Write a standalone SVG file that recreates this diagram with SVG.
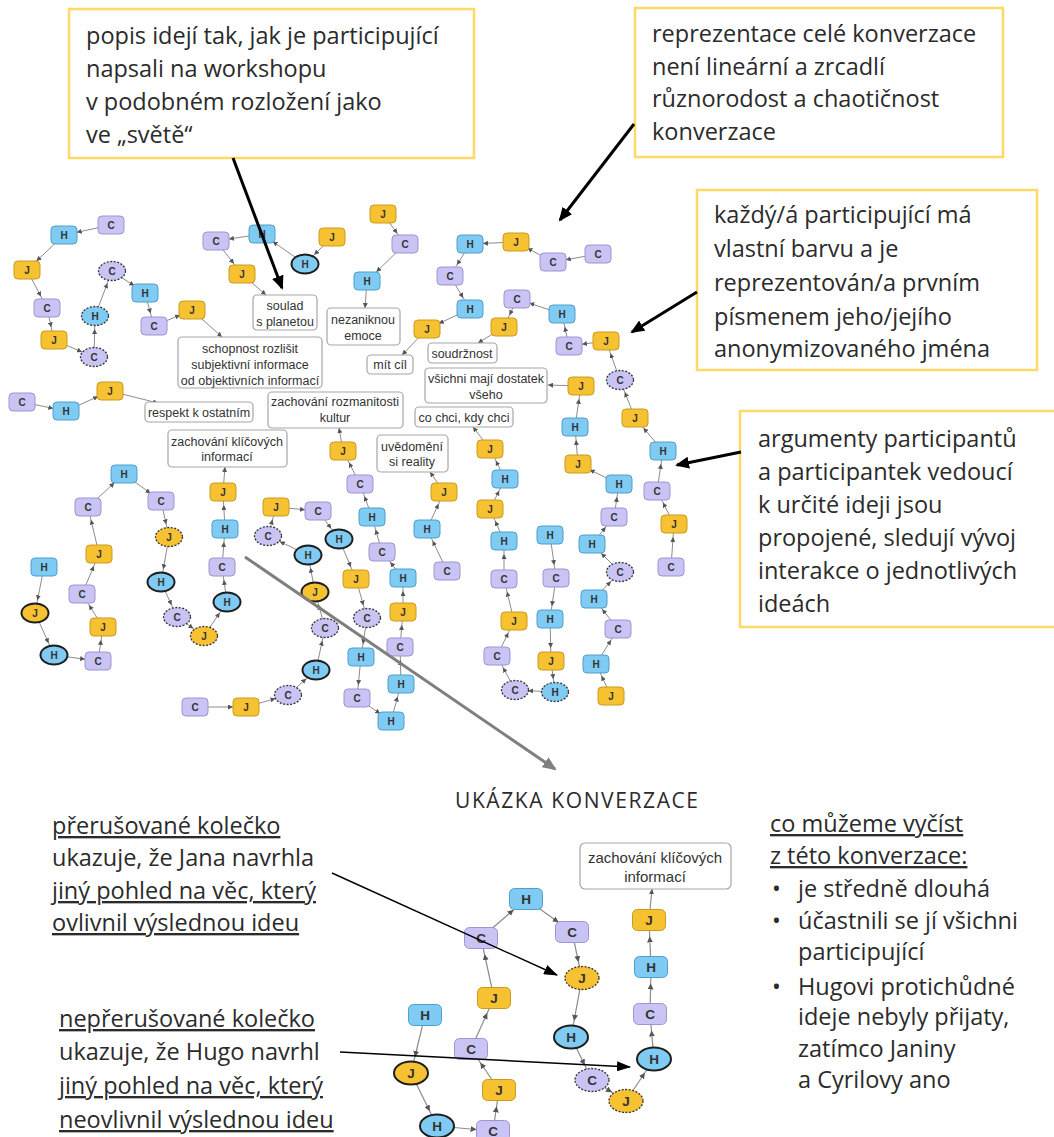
<svg xmlns="http://www.w3.org/2000/svg" width="1054" height="1137" viewBox="0 0 1054 1137">
<style>
.ann{fill:none;stroke:#ffd966;stroke-width:2.5}
.at{font-family:"Open Sans","Liberation Sans",sans-serif;font-size:23.5px;fill:#2b2b2b}
.u{text-decoration:underline}
.idea rect{fill:#fff;stroke:#a6a6a6;stroke-width:1.2}
.idea text{font-family:"Liberation Sans",Arial,sans-serif;font-size:12.5px;fill:#333;text-anchor:middle}
.n text{font-family:"Liberation Sans",Arial,sans-serif;font-weight:bold;font-size:10px;fill:#333;text-anchor:middle}
.L text{font-size:13.5px}
.c rect,.c ellipse{fill:#c9c4f4;stroke:#9c95d3;stroke-width:1}
.h rect,.h ellipse{fill:#7fcbf3;stroke:#4f9fcc;stroke-width:1}
.j rect,.j ellipse{fill:#f7c232;stroke:#c99a1c;stroke-width:1}
.d ellipse{stroke:#333;stroke-dasharray:2 1.5;stroke-width:1.3}
.b ellipse{stroke:#1e1e1e;stroke-width:2}
.e{stroke:#8c8c8c;stroke-width:1;fill:none;marker-end:url(#a)}
.eb{stroke:#8c8c8c;stroke-width:1;fill:none;marker-end:url(#ab)}
.el{stroke:#8c8c8c;stroke-width:1.2;fill:none;marker-end:url(#al)}
.elb{stroke:#8c8c8c;stroke-width:1.2;fill:none;marker-end:url(#ab)}
.k{stroke:#000;stroke-width:3;fill:none;marker-end:url(#mk)}
.g{stroke:#7f7f7f;stroke-width:3;fill:none;marker-end:url(#mg)}
.t{stroke:#000;stroke-width:1.4;fill:none;marker-end:url(#mt)}
</style>
<defs>
<marker id="a" viewBox="0 0 5 5" markerWidth="5" markerHeight="5" refX="18" refY="2.5" orient="auto" markerUnits="userSpaceOnUse"><path d="M0,0 L5,2.5 L0,5z" fill="#555"/></marker>
<marker id="ab" viewBox="0 0 5 5" markerWidth="5" markerHeight="5" refX="5" refY="2.5" orient="auto" markerUnits="userSpaceOnUse"><path d="M0,0 L5,2.5 L0,5z" fill="#555"/></marker>
<marker id="al" viewBox="0 0 6 6" markerWidth="6" markerHeight="6" refX="22.5" refY="3" orient="auto" markerUnits="userSpaceOnUse"><path d="M0,0 L6,3 L0,6z" fill="#555"/></marker>
<marker id="mk" viewBox="0 0 14 12" markerWidth="14" markerHeight="12" refX="12" refY="6" orient="auto" markerUnits="userSpaceOnUse"><path d="M0,0 L14,6 L0,12z" fill="#000"/></marker>
<marker id="mg" viewBox="0 0 14 12" markerWidth="14" markerHeight="12" refX="12" refY="6" orient="auto" markerUnits="userSpaceOnUse"><path d="M0,0 L14,6 L0,12z" fill="#7f7f7f"/></marker>
<marker id="mt" viewBox="0 0 14 10" markerWidth="14" markerHeight="10" refX="13" refY="5" orient="auto" markerUnits="userSpaceOnUse"><path d="M0,0 L14,5 L0,10z" fill="#000"/></marker>
</defs>
<rect width="1054" height="1137" fill="#fff"/>

<g id="connectors">
<line class="e" x1="111" y1="225" x2="64" y2="235"/>
<line class="e" x1="64" y1="235" x2="27" y2="270"/>
<line class="e" x1="27" y1="270" x2="47" y2="308"/>
<line class="e" x1="47" y1="308" x2="54" y2="340"/>
<line class="e" x1="54" y1="340" x2="94" y2="357"/>
<line class="e" x1="94" y1="357" x2="95" y2="316"/>
<line class="e" x1="95" y1="316" x2="112" y2="271"/>
<line class="e" x1="112" y1="271" x2="145" y2="293"/>
<line class="e" x1="145" y1="293" x2="154" y2="326"/>
<line class="e" x1="154" y1="326" x2="192" y2="310"/>
<line class="eb" x1="192" y1="310" x2="222" y2="337"/>
<line class="e" x1="332" y1="237" x2="305" y2="264"/>
<line class="e" x1="305" y1="264" x2="262" y2="234"/>
<line class="e" x1="262" y1="234" x2="216" y2="241"/>
<line class="e" x1="216" y1="241" x2="242" y2="274"/>
<line class="eb" x1="242" y1="274" x2="266" y2="295"/>
<line class="e" x1="383" y1="214" x2="405" y2="244"/>
<line class="e" x1="405" y1="244" x2="367" y2="281"/>
<line class="eb" x1="367" y1="281" x2="365" y2="308"/>
<line class="e" x1="598" y1="254" x2="553" y2="262"/>
<line class="e" x1="553" y1="262" x2="516" y2="242"/>
<line class="e" x1="516" y1="242" x2="470" y2="244"/>
<line class="e" x1="470" y1="244" x2="450" y2="276"/>
<line class="e" x1="450" y1="276" x2="470" y2="309"/>
<line class="e" x1="470" y1="309" x2="427" y2="329"/>
<line class="eb" x1="427" y1="329" x2="402" y2="355"/>
<line class="e" x1="671" y1="567" x2="674" y2="524"/>
<line class="e" x1="674" y1="524" x2="657" y2="491"/>
<line class="e" x1="657" y1="491" x2="663" y2="451"/>
<line class="e" x1="663" y1="451" x2="635" y2="418"/>
<line class="e" x1="635" y1="418" x2="620" y2="380"/>
<line class="e" x1="620" y1="380" x2="606" y2="341"/>
<line class="e" x1="606" y1="341" x2="569" y2="346"/>
<line class="e" x1="569" y1="346" x2="562" y2="314"/>
<line class="e" x1="562" y1="314" x2="517" y2="299"/>
<line class="e" x1="517" y1="299" x2="504" y2="327"/>
<line class="eb" x1="504" y1="327" x2="478" y2="343"/>
<line class="e" x1="611" y1="696" x2="596" y2="664"/>
<line class="e" x1="596" y1="664" x2="618" y2="629"/>
<line class="e" x1="618" y1="629" x2="594" y2="599"/>
<line class="e" x1="594" y1="599" x2="620" y2="572"/>
<line class="e" x1="620" y1="572" x2="592" y2="544"/>
<line class="e" x1="592" y1="544" x2="614" y2="517"/>
<line class="e" x1="614" y1="517" x2="619" y2="484"/>
<line class="e" x1="619" y1="484" x2="578" y2="464"/>
<line class="e" x1="578" y1="464" x2="575" y2="427"/>
<line class="e" x1="575" y1="427" x2="581" y2="386"/>
<line class="eb" x1="581" y1="386" x2="548" y2="385"/>
<line class="e" x1="550" y1="535" x2="556" y2="578"/>
<line class="e" x1="556" y1="578" x2="550" y2="619"/>
<line class="e" x1="550" y1="619" x2="551" y2="661"/>
<line class="e" x1="551" y1="661" x2="555" y2="692"/>
<line class="e" x1="555" y1="692" x2="515" y2="690"/>
<line class="e" x1="515" y1="690" x2="497" y2="656"/>
<line class="e" x1="497" y1="656" x2="514" y2="621"/>
<line class="e" x1="514" y1="621" x2="504" y2="579"/>
<line class="e" x1="504" y1="579" x2="504" y2="541"/>
<line class="e" x1="504" y1="541" x2="490" y2="509"/>
<line class="e" x1="490" y1="509" x2="505" y2="479"/>
<line class="e" x1="505" y1="479" x2="490" y2="449"/>
<line class="eb" x1="490" y1="449" x2="473" y2="427"/>
<line class="e" x1="447" y1="571" x2="427" y2="529"/>
<line class="e" x1="427" y1="529" x2="444" y2="492"/>
<line class="eb" x1="444" y1="492" x2="430" y2="472"/>
<line class="e" x1="195" y1="707" x2="246" y2="707"/>
<line class="e" x1="246" y1="707" x2="288" y2="695"/>
<line class="e" x1="288" y1="695" x2="316" y2="670"/>
<line class="e" x1="316" y1="670" x2="325" y2="628"/>
<line class="e" x1="325" y1="628" x2="315" y2="592"/>
<line class="e" x1="315" y1="592" x2="308" y2="555"/>
<line class="e" x1="308" y1="555" x2="268" y2="536"/>
<line class="e" x1="268" y1="536" x2="276" y2="507"/>
<line class="e" x1="276" y1="507" x2="318" y2="511"/>
<line class="e" x1="318" y1="511" x2="339" y2="539"/>
<line class="e" x1="339" y1="539" x2="356" y2="579"/>
<line class="e" x1="356" y1="579" x2="367" y2="618"/>
<line class="e" x1="367" y1="618" x2="361" y2="657"/>
<line class="e" x1="361" y1="657" x2="357" y2="698"/>
<line class="e" x1="357" y1="698" x2="391" y2="721"/>
<line class="e" x1="391" y1="721" x2="401" y2="684"/>
<line class="e" x1="401" y1="684" x2="400" y2="647"/>
<line class="e" x1="400" y1="647" x2="403" y2="612"/>
<line class="e" x1="403" y1="612" x2="403" y2="578"/>
<line class="e" x1="403" y1="578" x2="382" y2="552"/>
<line class="e" x1="382" y1="552" x2="372" y2="517"/>
<line class="e" x1="372" y1="517" x2="360" y2="484"/>
<line class="e" x1="360" y1="484" x2="343" y2="451"/>
<line class="eb" x1="343" y1="451" x2="339" y2="428"/>
<line class="e" x1="44" y1="567" x2="35" y2="613"/>
<line class="e" x1="35" y1="613" x2="54" y2="655"/>
<line class="e" x1="54" y1="655" x2="98" y2="661"/>
<line class="e" x1="98" y1="661" x2="103" y2="627"/>
<line class="e" x1="103" y1="627" x2="82" y2="594"/>
<line class="e" x1="82" y1="594" x2="99" y2="554"/>
<line class="e" x1="99" y1="554" x2="88" y2="507"/>
<line class="e" x1="88" y1="507" x2="124" y2="474"/>
<line class="e" x1="124" y1="474" x2="161" y2="501"/>
<line class="e" x1="161" y1="501" x2="169" y2="537"/>
<line class="e" x1="169" y1="537" x2="161" y2="582"/>
<line class="e" x1="161" y1="582" x2="177" y2="617"/>
<line class="e" x1="177" y1="617" x2="204" y2="636"/>
<line class="e" x1="204" y1="636" x2="227" y2="602"/>
<line class="e" x1="227" y1="602" x2="222" y2="567"/>
<line class="e" x1="222" y1="567" x2="225" y2="529"/>
<line class="e" x1="225" y1="529" x2="223" y2="492"/>
<line class="eb" x1="223" y1="492" x2="225" y2="467"/>
<line class="e" x1="22" y1="402" x2="66" y2="411"/>
<line class="e" x1="66" y1="411" x2="110" y2="391"/>
<line class="eb" x1="110" y1="391" x2="158" y2="403"/>
<line class="el" x1="425" y1="1015" x2="411" y2="1073"/>
<line class="el" x1="411" y1="1073" x2="437" y2="1126"/>
<line class="el" x1="437" y1="1126" x2="493" y2="1131"/>
<line class="el" x1="493" y1="1131" x2="499" y2="1090"/>
<line class="el" x1="499" y1="1090" x2="471" y2="1049"/>
<line class="el" x1="471" y1="1049" x2="494" y2="998"/>
<line class="el" x1="494" y1="998" x2="481" y2="938"/>
<line class="el" x1="481" y1="938" x2="526" y2="899"/>
<line class="el" x1="526" y1="899" x2="572" y2="932"/>
<line class="el" x1="572" y1="932" x2="582" y2="978"/>
<line class="el" x1="582" y1="978" x2="571" y2="1037"/>
<line class="el" x1="571" y1="1037" x2="592" y2="1080"/>
<line class="el" x1="592" y1="1080" x2="626" y2="1101"/>
<line class="el" x1="626" y1="1101" x2="654" y2="1059"/>
<line class="el" x1="654" y1="1059" x2="650" y2="1014"/>
<line class="el" x1="650" y1="1014" x2="651" y2="967"/>
<line class="el" x1="651" y1="967" x2="649" y2="920"/>
<line class="elb" x1="649" y1="920" x2="652" y2="889"/>
</g>

<g id="ideas">
<g id="idea-soulad" class="idea"><rect x="253" y="295" width="64" height="35" rx="4"/><text x="285" y="310">soulad</text><text x="285" y="326">s planetou</text></g>
<g id="idea-schopnost" class="idea"><rect x="178" y="337" width="144" height="51" rx="4"/><text x="250" y="353">schopnost rozlišit</text><text x="250" y="369">subjektivní informace</text><text x="250" y="385">od objektivních informací</text></g>
<g id="idea-nezaniknou" class="idea"><rect x="327" y="308" width="73" height="37" rx="4"/><text x="363" y="324">nezaniknou</text><text x="363" y="340">emoce</text></g>
<g id="idea-mitcil" class="idea"><rect x="367" y="355" width="46" height="19" rx="4"/><text x="390" y="369">mít cíl</text></g>
<g id="idea-soudrznost" class="idea"><rect x="428" y="343" width="69" height="20" rx="4"/><text x="462" y="358">soudržnost</text></g>
<g id="idea-vsichni" class="idea"><rect x="425" y="368" width="122" height="35" rx="4"/><text x="486" y="383">všichni mají dostatek</text><text x="486" y="399">všeho</text></g>
<g id="idea-cochci" class="idea"><rect x="415" y="407" width="98" height="20" rx="4"/><text x="464" y="422">co chci, kdy chci</text></g>
<g id="idea-respekt" class="idea"><rect x="145" y="402" width="108" height="20" rx="4"/><text x="199" y="417">respekt k ostatním</text></g>
<g id="idea-rozmanitost" class="idea"><rect x="268" y="392" width="135" height="36" rx="4"/><text x="335" y="406">zachování rozmanitosti</text><text x="335" y="422">kultur</text></g>
<g id="idea-klicove" class="idea"><rect x="168" y="430" width="119" height="37" rx="4"/><text x="227" y="446">zachování klíčových</text><text x="227" y="461">informací</text></g>
<g id="idea-uvedomeni" class="idea"><rect x="377" y="435" width="71" height="37" rx="4"/><text x="412" y="451">uvědomění</text><text x="412" y="466">si reality</text></g>
<g id="idea-klicove-2" class="idea"><rect x="580" y="843" width="151" height="46" rx="5"/><text x="655" y="863" style="font-size:15px">zachování klíčových</text><text x="655" y="882" style="font-size:15px">informací</text></g>
</g>

<g id="nodes">
<g id="a1" class="n c"><rect x="98" y="216" width="26" height="18" rx="4"/><text x="111" y="228.5">C</text></g>
<g id="a2" class="n h"><rect x="51" y="226" width="26" height="18" rx="4"/><text x="64" y="238.5">H</text></g>
<g id="a3" class="n j"><rect x="14" y="261" width="26" height="18" rx="4"/><text x="27" y="273.5">J</text></g>
<g id="a4" class="n c"><rect x="34" y="299" width="26" height="18" rx="4"/><text x="47" y="311.5">C</text></g>
<g id="a5" class="n j"><rect x="41" y="331" width="26" height="18" rx="4"/><text x="54" y="343.5">J</text></g>
<g id="a6" class="n c d"><ellipse cx="94" cy="357" rx="13.5" ry="9.5"/><text x="94" y="360.5">C</text></g>
<g id="a7" class="n h d"><ellipse cx="95" cy="316" rx="13.5" ry="9.5"/><text x="95" y="319.5">H</text></g>
<g id="a8" class="n c d"><ellipse cx="112" cy="271" rx="13.5" ry="9.5"/><text x="112" y="274.5">C</text></g>
<g id="a9" class="n h"><rect x="132" y="284" width="26" height="18" rx="4"/><text x="145" y="296.5">H</text></g>
<g id="a10" class="n c"><rect x="141" y="317" width="26" height="18" rx="4"/><text x="154" y="329.5">C</text></g>
<g id="a11" class="n j"><rect x="179" y="301" width="26" height="18" rx="4"/><text x="192" y="313.5">J</text></g>

<g id="b1" class="n j"><rect x="319" y="228" width="26" height="18" rx="4"/><text x="332" y="240.5">J</text></g>
<g id="b2" class="n h b"><ellipse cx="305" cy="264" rx="13.5" ry="9.5"/><text x="305" y="267.5">H</text></g>
<g id="b3" class="n h"><rect x="249" y="225" width="26" height="18" rx="4"/><text x="262" y="237.5">H</text></g>
<g id="b4" class="n c"><rect x="203" y="232" width="26" height="18" rx="4"/><text x="216" y="244.5">C</text></g>
<g id="b5" class="n j"><rect x="229" y="265" width="26" height="18" rx="4"/><text x="242" y="277.5">J</text></g>

<g id="c1" class="n j"><rect x="370" y="205" width="26" height="18" rx="4"/><text x="383" y="217.5">J</text></g>
<g id="c2" class="n c"><rect x="392" y="235" width="26" height="18" rx="4"/><text x="405" y="247.5">C</text></g>
<g id="c3" class="n h"><rect x="354" y="272" width="26" height="18" rx="4"/><text x="367" y="284.5">H</text></g>

<g id="d1" class="n c"><rect x="585" y="245" width="26" height="18" rx="4"/><text x="598" y="257.5">C</text></g>
<g id="d2" class="n c"><rect x="540" y="253" width="26" height="18" rx="4"/><text x="553" y="265.5">C</text></g>
<g id="d3" class="n j"><rect x="503" y="233" width="26" height="18" rx="4"/><text x="516" y="245.5">J</text></g>
<g id="d4" class="n h"><rect x="457" y="235" width="26" height="18" rx="4"/><text x="470" y="247.5">H</text></g>
<g id="d5" class="n c"><rect x="437" y="267" width="26" height="18" rx="4"/><text x="450" y="279.5">C</text></g>
<g id="d6" class="n h"><rect x="457" y="300" width="26" height="18" rx="4"/><text x="470" y="312.5">H</text></g>
<g id="d7" class="n j"><rect x="414" y="320" width="26" height="18" rx="4"/><text x="427" y="332.5">J</text></g>

<g id="e1" class="n c"><rect x="658" y="558" width="26" height="18" rx="4"/><text x="671" y="570.5">C</text></g>
<g id="e2" class="n j"><rect x="661" y="515" width="26" height="18" rx="4"/><text x="674" y="527.5">J</text></g>
<g id="e3" class="n c"><rect x="644" y="482" width="26" height="18" rx="4"/><text x="657" y="494.5">C</text></g>
<g id="e4" class="n h"><rect x="650" y="442" width="26" height="18" rx="4"/><text x="663" y="454.5">H</text></g>
<g id="e5" class="n j"><rect x="622" y="409" width="26" height="18" rx="4"/><text x="635" y="421.5">J</text></g>
<g id="e6" class="n c d"><ellipse cx="620" cy="380" rx="13.5" ry="9.5"/><text x="620" y="383.5">C</text></g>
<g id="e7" class="n j"><rect x="593" y="332" width="26" height="18" rx="4"/><text x="606" y="344.5">J</text></g>
<g id="e8" class="n c"><rect x="556" y="337" width="26" height="18" rx="4"/><text x="569" y="349.5">C</text></g>
<g id="e9" class="n h"><rect x="549" y="305" width="26" height="18" rx="4"/><text x="562" y="317.5">H</text></g>
<g id="e10" class="n c"><rect x="504" y="290" width="26" height="18" rx="4"/><text x="517" y="302.5">C</text></g>
<g id="e11" class="n j"><rect x="491" y="318" width="26" height="18" rx="4"/><text x="504" y="330.5">J</text></g>

<g id="f1" class="n j"><rect x="598" y="687" width="26" height="18" rx="4"/><text x="611" y="699.5">J</text></g>
<g id="f2" class="n h"><rect x="583" y="655" width="26" height="18" rx="4"/><text x="596" y="667.5">H</text></g>
<g id="f3" class="n c"><rect x="605" y="620" width="26" height="18" rx="4"/><text x="618" y="632.5">C</text></g>
<g id="f4" class="n h"><rect x="581" y="590" width="26" height="18" rx="4"/><text x="594" y="602.5">H</text></g>
<g id="f5" class="n c d"><ellipse cx="620" cy="572" rx="13.5" ry="9.5"/><text x="620" y="575.5">C</text></g>
<g id="f6" class="n h"><rect x="579" y="535" width="26" height="18" rx="4"/><text x="592" y="547.5">H</text></g>
<g id="f7" class="n c"><rect x="601" y="508" width="26" height="18" rx="4"/><text x="614" y="520.5">C</text></g>
<g id="f8" class="n h"><rect x="606" y="475" width="26" height="18" rx="4"/><text x="619" y="487.5">H</text></g>
<g id="f9" class="n j"><rect x="565" y="455" width="26" height="18" rx="4"/><text x="578" y="467.5">J</text></g>
<g id="f10" class="n h"><rect x="562" y="418" width="26" height="18" rx="4"/><text x="575" y="430.5">H</text></g>
<g id="f11" class="n j"><rect x="568" y="377" width="26" height="18" rx="4"/><text x="581" y="389.5">J</text></g>

<g id="g1" class="n h"><rect x="537" y="526" width="26" height="18" rx="4"/><text x="550" y="538.5">H</text></g>
<g id="g2" class="n c"><rect x="543" y="569" width="26" height="18" rx="4"/><text x="556" y="581.5">C</text></g>
<g id="g3" class="n h"><rect x="537" y="610" width="26" height="18" rx="4"/><text x="550" y="622.5">H</text></g>
<g id="g4" class="n j"><rect x="538" y="652" width="26" height="18" rx="4"/><text x="551" y="664.5">J</text></g>
<g id="g5" class="n h d"><ellipse cx="555" cy="692" rx="13.5" ry="9.5"/><text x="555" y="695.5">H</text></g>
<g id="g6" class="n c d"><ellipse cx="515" cy="690" rx="13.5" ry="9.5"/><text x="515" y="693.5">C</text></g>
<g id="g7" class="n c"><rect x="484" y="647" width="26" height="18" rx="4"/><text x="497" y="659.5">C</text></g>
<g id="g8" class="n j"><rect x="501" y="612" width="26" height="18" rx="4"/><text x="514" y="624.5">J</text></g>
<g id="g9" class="n c"><rect x="491" y="570" width="26" height="18" rx="4"/><text x="504" y="582.5">C</text></g>
<g id="g10" class="n h"><rect x="491" y="532" width="26" height="18" rx="4"/><text x="504" y="544.5">H</text></g>
<g id="g11" class="n j"><rect x="477" y="500" width="26" height="18" rx="4"/><text x="490" y="512.5">J</text></g>
<g id="g12" class="n h"><rect x="492" y="470" width="26" height="18" rx="4"/><text x="505" y="482.5">H</text></g>
<g id="g13" class="n j"><rect x="477" y="440" width="26" height="18" rx="4"/><text x="490" y="452.5">J</text></g>

<g id="h1" class="n c"><rect x="434" y="562" width="26" height="18" rx="4"/><text x="447" y="574.5">C</text></g>
<g id="h2" class="n h"><rect x="414" y="520" width="26" height="18" rx="4"/><text x="427" y="532.5">H</text></g>
<g id="h3" class="n j"><rect x="431" y="483" width="26" height="18" rx="4"/><text x="444" y="495.5">J</text></g>

<g id="i1" class="n c"><rect x="182" y="698" width="26" height="18" rx="4"/><text x="195" y="710.5">C</text></g>
<g id="i2" class="n j"><rect x="233" y="698" width="26" height="18" rx="4"/><text x="246" y="710.5">J</text></g>
<g id="i3" class="n c d"><ellipse cx="288" cy="695" rx="13.5" ry="9.5"/><text x="288" y="698.5">C</text></g>
<g id="i4" class="n h b"><ellipse cx="316" cy="670" rx="13.5" ry="9.5"/><text x="316" y="673.5">H</text></g>
<g id="i5" class="n c d"><ellipse cx="325" cy="628" rx="13.5" ry="9.5"/><text x="325" y="631.5">C</text></g>
<g id="i6" class="n j b"><ellipse cx="315" cy="592" rx="13.5" ry="9.5"/><text x="315" y="595.5">J</text></g>
<g id="i7" class="n h b"><ellipse cx="308" cy="555" rx="13.5" ry="9.5"/><text x="308" y="558.5">H</text></g>
<g id="i8" class="n c d"><ellipse cx="268" cy="536" rx="13.5" ry="9.5"/><text x="268" y="539.5">C</text></g>
<g id="i9" class="n j"><rect x="263" y="498" width="26" height="18" rx="4"/><text x="276" y="510.5">J</text></g>
<g id="i10" class="n c"><rect x="305" y="502" width="26" height="18" rx="4"/><text x="318" y="514.5">C</text></g>
<g id="i11" class="n h b"><ellipse cx="339" cy="539" rx="13.5" ry="9.5"/><text x="339" y="542.5">H</text></g>
<g id="i12" class="n j"><rect x="343" y="570" width="26" height="18" rx="4"/><text x="356" y="582.5">J</text></g>
<g id="i13" class="n c d"><ellipse cx="367" cy="618" rx="13.5" ry="9.5"/><text x="367" y="621.5">C</text></g>
<g id="i14" class="n h"><rect x="348" y="648" width="26" height="18" rx="4"/><text x="361" y="660.5">H</text></g>
<g id="i15" class="n c"><rect x="344" y="689" width="26" height="18" rx="4"/><text x="357" y="701.5">C</text></g>
<g id="i16" class="n h"><rect x="378" y="712" width="26" height="18" rx="4"/><text x="391" y="724.5">H</text></g>
<g id="i17" class="n h"><rect x="388" y="675" width="26" height="18" rx="4"/><text x="401" y="687.5">H</text></g>
<g id="i18" class="n c"><rect x="387" y="638" width="26" height="18" rx="4"/><text x="400" y="650.5">C</text></g>
<g id="i19" class="n j"><rect x="390" y="603" width="26" height="18" rx="4"/><text x="403" y="615.5">J</text></g>
<g id="i20" class="n h"><rect x="390" y="569" width="26" height="18" rx="4"/><text x="403" y="581.5">H</text></g>
<g id="i21" class="n c"><rect x="369" y="543" width="26" height="18" rx="4"/><text x="382" y="555.5">C</text></g>
<g id="i22" class="n h"><rect x="359" y="508" width="26" height="18" rx="4"/><text x="372" y="520.5">H</text></g>
<g id="i23" class="n c"><rect x="347" y="475" width="26" height="18" rx="4"/><text x="360" y="487.5">C</text></g>
<g id="i24" class="n j"><rect x="330" y="442" width="26" height="18" rx="4"/><text x="343" y="454.5">J</text></g>

<g id="j1" class="n h"><rect x="31" y="558" width="26" height="18" rx="4"/><text x="44" y="570.5">H</text></g>
<g id="j2" class="n j b"><ellipse cx="35" cy="613" rx="13.5" ry="9.5"/><text x="35" y="616.5">J</text></g>
<g id="j3" class="n h b"><ellipse cx="54" cy="655" rx="13.5" ry="9.5"/><text x="54" y="658.5">H</text></g>
<g id="j4" class="n c"><rect x="85" y="652" width="26" height="18" rx="4"/><text x="98" y="664.5">C</text></g>
<g id="j5" class="n j"><rect x="90" y="618" width="26" height="18" rx="4"/><text x="103" y="630.5">J</text></g>
<g id="j6" class="n c"><rect x="69" y="585" width="26" height="18" rx="4"/><text x="82" y="597.5">C</text></g>
<g id="j7" class="n j"><rect x="86" y="545" width="26" height="18" rx="4"/><text x="99" y="557.5">J</text></g>
<g id="j8" class="n c"><rect x="75" y="498" width="26" height="18" rx="4"/><text x="88" y="510.5">C</text></g>
<g id="j9" class="n h"><rect x="111" y="465" width="26" height="18" rx="4"/><text x="124" y="477.5">H</text></g>
<g id="j10" class="n c"><rect x="148" y="492" width="26" height="18" rx="4"/><text x="161" y="504.5">C</text></g>
<g id="j11" class="n j d"><ellipse cx="169" cy="537" rx="13.5" ry="9.5"/><text x="169" y="540.5">J</text></g>
<g id="j12" class="n h b"><ellipse cx="161" cy="582" rx="13.5" ry="9.5"/><text x="161" y="585.5">H</text></g>
<g id="j13" class="n c d"><ellipse cx="177" cy="617" rx="13.5" ry="9.5"/><text x="177" y="620.5">C</text></g>
<g id="j14" class="n j d"><ellipse cx="204" cy="636" rx="13.5" ry="9.5"/><text x="204" y="639.5">J</text></g>
<g id="j15" class="n h b"><ellipse cx="227" cy="602" rx="13.5" ry="9.5"/><text x="227" y="605.5">H</text></g>
<g id="j16" class="n c"><rect x="209" y="558" width="26" height="18" rx="4"/><text x="222" y="570.5">C</text></g>
<g id="j17" class="n h"><rect x="212" y="520" width="26" height="18" rx="4"/><text x="225" y="532.5">H</text></g>
<g id="j18" class="n j"><rect x="210" y="483" width="26" height="18" rx="4"/><text x="223" y="495.5">J</text></g>

<g id="k1" class="n c"><rect x="9" y="393" width="26" height="18" rx="4"/><text x="22" y="405.5">C</text></g>
<g id="k2" class="n h"><rect x="53" y="402" width="26" height="18" rx="4"/><text x="66" y="414.5">H</text></g>
<g id="k3" class="n j"><rect x="97" y="382" width="26" height="18" rx="4"/><text x="110" y="394.5">J</text></g>

<g id="l1" class="n L h"><rect x="408.5" y="1004.5" width="33" height="21" rx="5"/><text x="425" y="1020">H</text></g>
<g id="l2" class="n L j b"><ellipse cx="411" cy="1073" rx="17" ry="11.5"/><text x="411" y="1078">J</text></g>
<g id="l3" class="n L h b"><ellipse cx="437" cy="1126" rx="17" ry="11.5"/><text x="437" y="1131">H</text></g>
<g id="l4" class="n L c"><rect x="476.5" y="1120.5" width="33" height="21" rx="5"/><text x="493" y="1136">C</text></g>
<g id="l5" class="n L j"><rect x="482.5" y="1079.5" width="33" height="21" rx="5"/><text x="499" y="1095">J</text></g>
<g id="l6" class="n L c"><rect x="454.5" y="1038.5" width="33" height="21" rx="5"/><text x="471" y="1054">C</text></g>
<g id="l7" class="n L j"><rect x="477.5" y="987.5" width="33" height="21" rx="5"/><text x="494" y="1003">J</text></g>
<g id="l8" class="n L c"><rect x="464.5" y="927.5" width="33" height="21" rx="5"/><text x="481" y="943">C</text></g>
<g id="l9" class="n L h"><rect x="509.5" y="888.5" width="33" height="21" rx="5"/><text x="526" y="904">H</text></g>
<g id="l10" class="n L c"><rect x="555.5" y="921.5" width="33" height="21" rx="5"/><text x="572" y="937">C</text></g>
<g id="l11" class="n L j d"><ellipse cx="582" cy="978" rx="17" ry="11.5"/><text x="582" y="983">J</text></g>
<g id="l12" class="n L h b"><ellipse cx="571" cy="1037" rx="17" ry="11.5"/><text x="571" y="1042">H</text></g>
<g id="l13" class="n L c d"><ellipse cx="592" cy="1080" rx="17" ry="11.5"/><text x="592" y="1085">C</text></g>
<g id="l14" class="n L j d"><ellipse cx="626" cy="1101" rx="17" ry="11.5"/><text x="626" y="1106">J</text></g>
<g id="l15" class="n L h b"><ellipse cx="654" cy="1059" rx="17" ry="11.5"/><text x="654" y="1064">H</text></g>
<g id="l16" class="n L c"><rect x="633.5" y="1003.5" width="33" height="21" rx="5"/><text x="650" y="1019">C</text></g>
<g id="l17" class="n L h"><rect x="634.5" y="956.5" width="33" height="21" rx="5"/><text x="651" y="972">H</text></g>
<g id="l18" class="n L j"><rect x="632.5" y="909.5" width="33" height="21" rx="5"/><text x="649" y="925">J</text></g>
</g>

<g id="annotations">
<g id="note-popis"><rect class="ann" x="69" y="9" width="405" height="149"/>
<text class="at" x="86" y="44">popis idejí tak, jak je participující</text>
<text class="at" x="86" y="77">napsali na workshopu</text>
<text class="at" x="86" y="110">v podobném rozložení jako</text>
<text class="at" x="86" y="143">ve „světě“</text></g>
<g id="note-reprezentace"><rect class="ann" x="635" y="8" width="368" height="149"/>
<text class="at" x="652" y="42">reprezentace celé konverzace</text>
<text class="at" x="652" y="75">není lineární a zrcadlí</text>
<text class="at" x="652" y="107">různorodost a chaotičnost</text>
<text class="at" x="652" y="140">konverzace</text></g>
<g id="note-barva"><rect class="ann" x="697" y="190" width="340" height="180"/>
<text class="at" x="714" y="223">každý/á participující má</text>
<text class="at" x="714" y="257">vlastní barvu a je</text>
<text class="at" x="714" y="291">reprezentován/a prvním</text>
<text class="at" x="714" y="325">písmenem jeho/jejího</text>
<text class="at" x="714" y="357">anonymizovaného jména</text></g>
<g id="note-argumenty"><rect class="ann" x="740" y="411" width="330" height="216"/>
<text class="at" x="758" y="447">argumenty participantů</text>
<text class="at" x="758" y="480">a participantek vedoucí</text>
<text class="at" x="758" y="513">k určité ideji jsou</text>
<text class="at" x="758" y="546">propojené, sledují vývoj</text>
<text class="at" x="758" y="579">interakce o jednotlivých</text>
<text class="at" x="758" y="612">ideách</text></g>
<g id="title"><text x="455" y="808" style="font-family:'Open Sans','Liberation Sans',sans-serif;font-size:21px;letter-spacing:1.6px;fill:#2b2b2b">UKÁZKA KONVERZACE</text></g>
<g id="note-prerusovane">
<text class="at u" x="52" y="834">přerušované kolečko</text>
<text class="at" x="52" y="866">ukazuje, že Jana navrhla</text>
<text class="at u" x="52" y="899">jiný pohled na věc, který</text>
<text class="at u" x="52" y="931">ovlivnil výslednou ideu</text></g>
<g id="note-neprerusovane">
<text class="at u" x="59" y="1027">nepřerušované kolečko</text>
<text class="at" x="59" y="1060">ukazuje, že Hugo navrhl</text>
<text class="at u" x="59" y="1094">jiný pohled na věc, který</text>
<text class="at u" x="59" y="1128">neovlivnil výslednou ideu</text></g>
<g id="note-vycist">
<text class="at u" x="770" y="832">co můžeme vyčíst</text>
<text class="at u" x="770" y="864">z této konverzace:</text>
<text class="at" x="772" y="897">•</text><text class="at" x="798" y="897">je středně dlouhá</text>
<text class="at" x="772" y="929">•</text><text class="at" x="798" y="929">účastnili se jí všichni</text>
<text class="at" x="798" y="960">participující</text>
<text class="at" x="772" y="995">•</text><text class="at" x="798" y="995">Hugovi protichůdné</text>
<text class="at" x="798" y="1025">ideje nebyly přijaty,</text>
<text class="at" x="798" y="1057">zatímco Janiny</text>
<text class="at" x="798" y="1088">a Cyrilovy ano</text></g>
</g>

<g id="pointers">
<line class="k" x1="233" y1="158" x2="282" y2="288"/>
<line class="k" x1="634" y1="124" x2="560" y2="220"/>
<line class="k" x1="697" y1="292" x2="632" y2="332"/>
<line class="k" x1="741" y1="452" x2="677" y2="465"/>
<line class="g" x1="245" y1="557" x2="555" y2="769"/>
<line class="t" x1="332" y1="873" x2="557" y2="975"/>
<line class="t" x1="340" y1="1052" x2="630" y2="1067"/>
</g>
</svg>
